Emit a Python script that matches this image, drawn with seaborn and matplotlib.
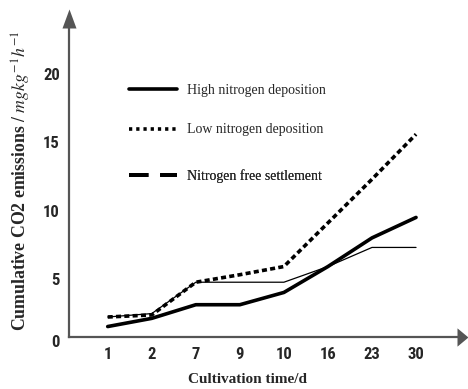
import matplotlib
matplotlib.use("Agg")
import matplotlib.pyplot as plt
from matplotlib import font_manager as fm
from matplotlib.lines import Line2D
import numpy as np
import pandas as pd
import seaborn as sns

# Sampling days (categorical axis) and cumulative CO2 emissions
days = ["1", "2", "7", "9", "10", "16", "23", "30"]
high_n = [1.5, 2.1, 3.1, 3.1, 4.0, 5.9, 8.0, 9.5]
low_n = [2.2, 2.35, 4.75, 5.3, 5.9, 9.1, 12.3, 15.6]
no_n = [2.2, 2.45, 4.75, 4.75, 4.75, 5.9, 7.3, 7.3]
yticks = [5, 10, 15, 20]

series_names = ["High nitrogen deposition", "Low nitrogen deposition",
                "Nitrogen free settlement"]

sns.set_theme(style="white")

# pick a condensed sans for the numerals if one is available
names = sorted({f.name for f in fm.fontManager.ttflist})
preferred = ["Liberation Sans Narrow", "Arial Narrow", "Roboto Condensed",
             "Open Sans Condensed", "Noto Sans Condensed", "DejaVu Sans Condensed"]
narrow = next((n for n in preferred if n in names), None)
if narrow is None:
    narrow = next((n for n in names if "Narrow" in n or "Condensed" in n), None)
num_size = 12
if narrow is None:
    narrow = "Liberation Sans"
    num_size = 11
serif = "Liberation Serif"
plt.rcParams["font.family"] = [serif, "DejaVu Serif"]
plt.rcParams["mathtext.fontset"] = "stix"

pos = np.arange(len(days))
df = pd.DataFrame({"pos": np.tile(pos, 3),
                   "value": high_n + low_n + no_n,
                   "series": np.repeat(series_names, len(days))})

fig = plt.figure(figsize=(4.68, 3.89), dpi=100)
ax = fig.add_axes([69 / 468, 52 / 389, 388 / 468, 309 / 389])

axis_col = "#555555"

# Nitrogen free settlement: thin solid trace
sns.lineplot(data=df[df.series == series_names[2]], x="pos", y="value",
             ax=ax, color="black", lw=0.9, legend=False, zorder=2)
# High nitrogen deposition: thick solid
sns.lineplot(data=df[df.series == series_names[0]], x="pos", y="value",
             ax=ax, color="black", lw=2.6, legend=False, zorder=3,
             solid_capstyle="round", solid_joinstyle="round")
# Low nitrogen deposition: heavy dotted
sns.lineplot(data=df[df.series == series_names[1]], x="pos", y="value",
             ax=ax, color="black", lw=2.6, legend=False, zorder=4)
ax.lines[-1].set_linestyle((0, (1.4, 0.9)))
ax.lines[-1].set_dash_capstyle("butt")

ax.set_xlim(-0.879, 7.93)
ax.set_ylim(0.733, 23.39)
ax.set_xticks(pos)
ax.set_xticklabels(days)
ax.set_yticks(yticks)
ax.set_yticklabels([str(t) for t in yticks])

for side in ("top", "right"):
    ax.spines[side].set_visible(False)
for side in ("left", "bottom"):
    ax.spines[side].set_color(axis_col)
    ax.spines[side].set_linewidth(1.6)

ax.tick_params(axis="x", direction="in", length=6, width=0.8, color="#999999",
               pad=7, labelsize=num_size)
ax.tick_params(axis="y", direction="in", length=4, width=0.8, color="#999999",
               pad=6.5, labelsize=num_size)
for lab in ax.get_xticklabels() + ax.get_yticklabels():
    lab.set_fontfamily(narrow)
    lab.set_fontweight("bold")

# origin label
ax.text(-0.036, -0.019, "0", transform=ax.transAxes, ha="center", va="center",
        fontsize=num_size, fontweight="bold", family=narrow)

# arrow heads at the axis ends
up = [(-7, 0), (7, 0), (0, 19), (-7, 0)]
right = [(0, -10), (12, 0), (0, 10), (0, -10)]
ax.plot([0], [1], marker=up, ms=27.4, color=axis_col, transform=ax.transAxes,
        clip_on=False, mew=0)
ax.plot([1], [0], marker=right, ms=15.8, color=axis_col, transform=ax.transAxes,
        clip_on=False, mew=0)

ax.set_xlabel("Cultivation time/d", fontsize=11, fontweight="bold", va="center")
ax.xaxis.set_label_coords(0.459, -0.139)
ax.set_ylabel(r"Cumulative CO2 emissions / $mgkg^{-1}h^{-1}$", fontsize=12.8,
              fontweight="bold", va="center")
ax.yaxis.set_label_coords(-0.123, 0.505)

# legend rows
handles = [
    Line2D([], [], color="black", lw=2.6),
    Line2D([], [], color="black", lw=2.6, linestyle=(0, (0.9, 1.1)),
           dash_capstyle="butt"),
    Line2D([], [], color="black", lw=2.8, linestyle=(0, (5.0, 3.0)),
           dash_capstyle="butt"),
]
rows_y = [0.799, 0.670, 0.521]
for h, name, y in zip(handles, series_names, rows_y):
    leg = ax.legend([h], [name], loc="center left", bbox_to_anchor=(0.155, y),
                    frameon=False, borderpad=0, borderaxespad=0,
                    handlelength=3.45, handletextpad=0.72,
                    prop={"family": serif, "size": 10})
    ax.add_artist(leg)

fig.savefig("out.png", dpi=100)
